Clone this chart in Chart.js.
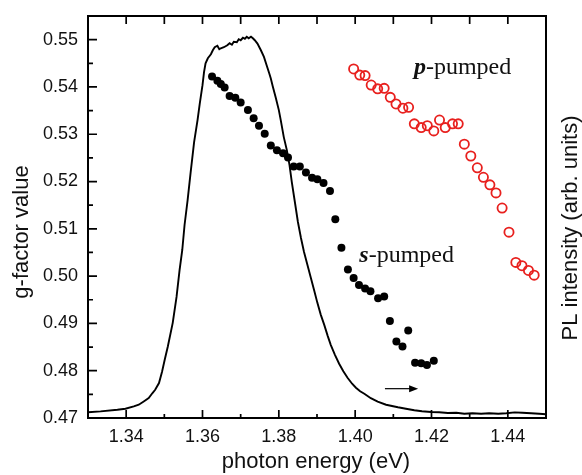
<!DOCTYPE html>
<html>
<head>
<meta charset="utf-8">
<script src="https://cdn.jsdelivr.net/npm/chart.js@4"></script>
<style>
  body { margin: 0; background: #fff; }
  canvas { display: block; }
</style>
</head>
<body>
<canvas id="gfactor-chart" width="582" height="475"></canvas>
<script>
// axis ticks
const xTickLabels = [1.34, 1.36, 1.38, 1.40, 1.42, 1.44];
const yTickLabels = [0.47, 0.48, 0.49, 0.50, 0.51, 0.52, 0.53, 0.54, 0.55];

// s-pumped g-factor (filled black)
const sEnergy = [1.3625, 1.3639, 1.3648, 1.3658, 1.3671, 1.3686, 1.3700, 1.3719, 1.3734, 1.3748,
  1.3763, 1.3779, 1.3795, 1.3811, 1.3824, 1.3839, 1.3855, 1.3871, 1.3887, 1.3901,
  1.3917, 1.3934, 1.3948, 1.3964, 1.3981, 1.3996, 1.4010, 1.4026, 1.4040, 1.4060,
  1.4076, 1.4091, 1.4108, 1.4124, 1.4139, 1.4157, 1.4173, 1.4188, 1.4206];
const sG = [0.5422, 0.5413, 0.5406, 0.5399, 0.5381, 0.5377, 0.5367, 0.5351, 0.5334, 0.5318,
  0.5301, 0.5276, 0.5266, 0.5260, 0.5251, 0.5232, 0.5232, 0.5219, 0.5208, 0.5205,
  0.5197, 0.5180, 0.5120, 0.5060, 0.5014, 0.4996, 0.4981, 0.4974, 0.4968, 0.4953,
  0.4957, 0.4905, 0.4862, 0.4851, 0.4885, 0.4817, 0.4816, 0.4812, 0.4821];

// p-pumped g-factor (open red)
const pEnergy = [1.3996, 1.4012, 1.4026, 1.4042, 1.4059, 1.4076, 1.4092, 1.4107, 1.4125, 1.4140,
  1.4155, 1.4173, 1.4189, 1.4206, 1.4221, 1.4236, 1.4255, 1.4270, 1.4286, 1.4303,
  1.4320, 1.4336, 1.4353, 1.4369, 1.4385, 1.4403, 1.4421, 1.4437, 1.4454, 1.4469];
const pG = [0.5438, 0.5425, 0.5424, 0.5404, 0.5396, 0.5397, 0.5378, 0.5364, 0.5355, 0.5357,
  0.5322, 0.5314, 0.5318, 0.5307, 0.5330, 0.5314, 0.5322, 0.5322, 0.5279, 0.5254,
  0.5229, 0.5209, 0.5193, 0.5176, 0.5144, 0.5093, 0.5029, 0.5022, 0.5012, 0.5002];

// PL spectrum, arb. units (right axis)
const plEnergy = [1.3300, 1.3333, 1.3377, 1.3398, 1.3420, 1.3433, 1.3446, 1.3459, 1.3469, 1.3476,
  1.3486, 1.3494, 1.3501, 1.3509, 1.3522, 1.3532, 1.3540, 1.3547, 1.3553, 1.3561,
  1.3569, 1.3578, 1.3587, 1.3593, 1.3600, 1.3604, 1.3608, 1.3614, 1.3622, 1.3627,
  1.3632, 1.3639, 1.3644, 1.3648, 1.3656, 1.3665, 1.3671, 1.3677, 1.3682, 1.3690,
  1.3695, 1.3700, 1.3706, 1.3711, 1.3716, 1.3721, 1.3727, 1.3732, 1.3737, 1.3744,
  1.3753, 1.3761, 1.3768, 1.3775, 1.3779, 1.3784, 1.3792, 1.3800, 1.3805, 1.3813,
  1.3821, 1.3828, 1.3834, 1.3842, 1.3850, 1.3858, 1.3866, 1.3875, 1.3884, 1.3893,
  1.3901, 1.3910, 1.3919, 1.3928, 1.3936, 1.3947, 1.3958, 1.3969, 1.3980, 1.3992,
  1.4002, 1.4013, 1.4024, 1.4041, 1.4059, 1.4081, 1.4112, 1.4133, 1.4155, 1.4175,
  1.4199, 1.4220, 1.4243, 1.4265, 1.4286, 1.4307, 1.4330, 1.4351, 1.4375, 1.4396,
  1.4418, 1.4438, 1.4461, 1.4482, 1.4501];
const plIntensity = [0.0144, 0.0164, 0.0206, 0.0231, 0.0288, 0.0330, 0.0412, 0.0497, 0.0621, 0.0703,
  0.0869, 0.1150, 0.1448, 0.1771, 0.2367, 0.3013, 0.3684, 0.4180, 0.4801, 0.5422,
  0.6118, 0.6863, 0.7409, 0.7832, 0.8279, 0.8602, 0.8825, 0.8949, 0.9049, 0.9148,
  0.9223, 0.9260, 0.9173, 0.9198, 0.9223, 0.9272, 0.9322, 0.9285, 0.9359, 0.9347,
  0.9421, 0.9397, 0.9459, 0.9434, 0.9483, 0.9446, 0.9483, 0.9446, 0.9397, 0.9314,
  0.9148, 0.8982, 0.8776, 0.8569, 0.8445, 0.8254, 0.7968, 0.7658, 0.7409, 0.6987,
  0.6664, 0.6292, 0.5869, 0.5373, 0.4876, 0.4478, 0.4131, 0.3808, 0.3485, 0.3162,
  0.2864, 0.2566, 0.2317, 0.2044, 0.1821, 0.1572, 0.1349, 0.1162, 0.1001, 0.0852,
  0.0753, 0.0666, 0.0604, 0.0492, 0.0405, 0.0330, 0.0268, 0.0231, 0.0194, 0.0169,
  0.0149, 0.0144, 0.0124, 0.0132, 0.0107, 0.0119, 0.0107, 0.0119, 0.0107, 0.0119,
  0.0139, 0.0132, 0.0119, 0.0107, 0.0094];

const toPoints = (xs, ys) => xs.map((x, i) => ({ x: x, y: ys[i] }));

// minor ticks halfway between majors
const xMinor = xTickLabels.map(v => v + 0.01).concat([xTickLabels[0] - 0.01]);
const yMinor = yTickLabels.map(v => v + 0.005);

Chart.defaults.font.family = '"Liberation Sans", Arial, sans-serif';
Chart.defaults.color = '#111';

const frameAndLabels = {
    id: 'frameAndLabels',
    afterDatasetsDraw(chart) {
        const { ctx, chartArea: a, scales } = chart;
        const x = scales.x, y = scales.y;
        ctx.save();

        // inward ticks
        ctx.strokeStyle = '#000';
        ctx.lineWidth = 1.7;
        ctx.beginPath();
        xTickLabels.forEach(v => {
            const px = x.getPixelForValue(v);
            ctx.moveTo(px, a.bottom); ctx.lineTo(px, a.bottom - 8);
            ctx.moveTo(px, a.top); ctx.lineTo(px, a.top + 8);
        });
        xMinor.forEach(v => {
            const px = x.getPixelForValue(v);
            if (px <= a.left + 1 || px >= a.right - 1) return;
            ctx.moveTo(px, a.bottom); ctx.lineTo(px, a.bottom - 4);
            ctx.moveTo(px, a.top); ctx.lineTo(px, a.top + 8);
        });
        yTickLabels.forEach(v => {
            const py = y.getPixelForValue(v);
            ctx.moveTo(a.left, py); ctx.lineTo(a.left + 9, py);
        });
        yMinor.forEach(v => {
            const py = y.getPixelForValue(v);
            if (py <= a.top + 1) return;
            ctx.moveTo(a.left, py); ctx.lineTo(a.left + 5, py);
        });
        ctx.stroke();

        ctx.lineWidth = 2;
        ctx.strokeRect(a.left, a.top, a.right - a.left, a.bottom - a.top);

        // axis titles
        ctx.fillStyle = '#111';
        ctx.font = '22px "Liberation Sans", Arial, sans-serif';
        ctx.textAlign = 'center';
        ctx.textBaseline = 'alphabetic';
        ctx.fillText('photon energy (eV)', (a.left + a.right) / 2 - 1, 468);

        ctx.textBaseline = 'middle';
        ctx.save();
        ctx.translate(22, 232);
        ctx.rotate(-Math.PI / 2);
        ctx.fillText('g-factor value', 0, 0);
        ctx.restore();

        ctx.save();
        ctx.translate(571, 228);
        ctx.rotate(-Math.PI / 2);
        ctx.fillText('PL intensity (arb. units)', 0, 0);
        ctx.restore();

        // curve labels
        const label = (ch, rest, ex, gy) => {
            let px = x.getPixelForValue(ex);
            const py = y.getPixelForValue(gy);
            ctx.textAlign = 'left';
            ctx.textBaseline = 'alphabetic';
            ctx.font = 'italic bold 24px "Liberation Serif", serif';
            ctx.fillText(ch, px, py);
            px += ctx.measureText(ch).width;
            ctx.font = '24px "Liberation Serif", serif';
            ctx.fillText(rest, px, py);
        };
        label('p', '-pumped', 1.4154, 0.5428);
        label('s', '-pumped', 1.4011, 0.5030);

        // arrow pointing to the PL axis
        const ax0 = x.getPixelForValue(1.4078), ax1 = x.getPixelForValue(1.4165);
        const ay = y.getPixelForValue(0.4762);
        ctx.lineWidth = 1.2;
        ctx.beginPath();
        ctx.moveTo(ax0, ay); ctx.lineTo(ax1 - 6, ay);
        ctx.stroke();
        ctx.fillStyle = '#000';
        ctx.beginPath();
        ctx.moveTo(ax1, ay); ctx.lineTo(ax1 - 9, ay - 3.5); ctx.lineTo(ax1 - 9, ay + 3.5);
        ctx.closePath();
        ctx.fill();

        ctx.restore();
    }
};

const ctx = document.getElementById('gfactor-chart').getContext('2d');

const gfactorChart = new Chart(ctx, {
    type: 'scatter',
    data: {
        datasets: [{
            label: 's-pumped',
            data: toPoints(sEnergy, sG),
            backgroundColor: '#000',
            borderColor: '#000',
            pointRadius: 4,
            pointBorderWidth: 0
        }, {
            label: 'p-pumped',
            data: toPoints(pEnergy, pG),
            backgroundColor: 'rgba(255,255,255,0)',
            borderColor: '#e8201e',
            pointRadius: 4.6,
            pointBorderWidth: 1.8
        }, {
            label: 'PL',
            type: 'line',
            data: toPoints(plEnergy, plIntensity),
            yAxisID: 'y2',
            borderColor: '#000',
            borderWidth: 1.9,
            pointRadius: 0,
            tension: 0,
            fill: false
        }]
    },
    options: {
        responsive: false,
        animation: false,
        layout: { padding: { top: 16, left: 0, right: 0, bottom: 0 } },
        plugins: {
            legend: { display: false },
            tooltip: { enabled: false }
        },
        scales: {
            x: {
                type: 'linear',
                position: 'bottom',
                min: 1.33,
                max: 1.45,
                grid: { display: false, drawTicks: false },
                border: { display: false },
                afterBuildTicks: scale => { scale.ticks = xTickLabels.map(v => ({ value: v })); },
                afterFit: scale => {
                    scale.height = 57;
                    scale.paddingLeft = 0;
                    scale.paddingRight = 0;
                },
                ticks: {
                    padding: 8,
                    maxRotation: 0,
                    font: { size: 18 },
                    color: '#111',
                    callback: v => v.toFixed(2)
                }
            },
            y: {
                type: 'linear',
                position: 'left',
                min: 0.47,
                max: 0.555,
                grid: { display: false, drawTicks: false },
                border: { display: false },
                afterBuildTicks: scale => { scale.ticks = yTickLabels.map(v => ({ value: v })); },
                afterFit: scale => {
                    scale.width = 88;
                    scale.paddingTop = 0;
                    scale.paddingBottom = 0;
                },
                ticks: {
                    padding: 10,
                    font: { size: 18 },
                    color: '#111',
                    callback: v => v.toFixed(2)
                }
            },
            y2: {
                type: 'linear',
                position: 'right',
                min: 0,
                max: 1,
                grid: { display: false, drawTicks: false },
                border: { display: false },
                ticks: { display: false },
                afterFit: scale => {
                    scale.width = 36;
                    scale.paddingTop = 0;
                    scale.paddingBottom = 0;
                }
            }
        }
    },
    plugins: [frameAndLabels]
});
</script>
</body>
</html>
